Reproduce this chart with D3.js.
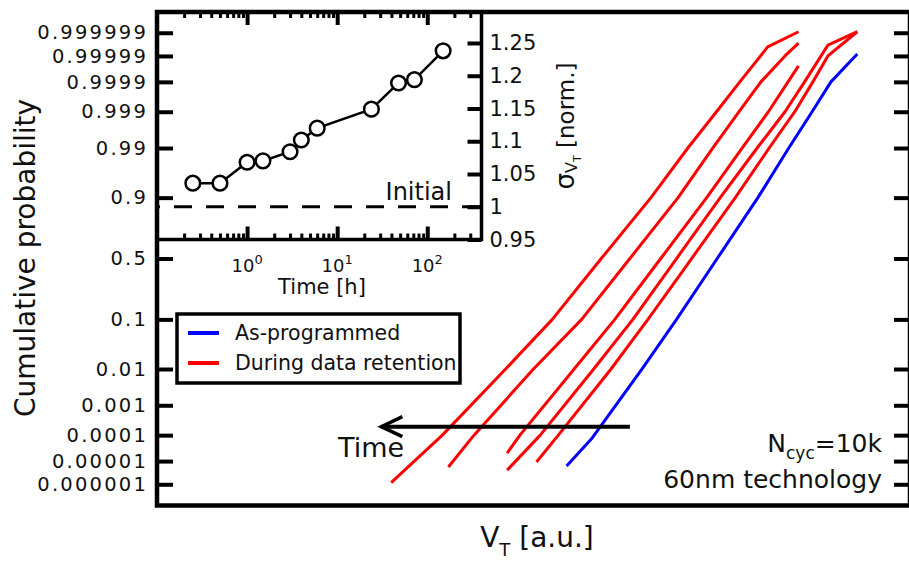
<!DOCTYPE html>
<html>
<head>
<meta charset="utf-8">
<script src="https://cdn.jsdelivr.net/npm/d3@7"></script>
<style>
  body { margin: 0; background: #fff; }
  text { font-family: "DejaVu Sans", sans-serif; fill: #111; }
</style>
</head>
<body>
<div id="chart"></div>
<script>
var width = 909, height = 563;

// ---- main plot data: V_T [a.u.] against cumulative probability ----
var probTicks  = [0.000001, 0.00001, 0.0001, 0.001, 0.01, 0.1, 0.5, 0.9, 0.99, 0.999, 0.9999, 0.99999, 0.999999];
var probLabels = ["0.000001", "0.00001", "0.0001", "0.001", "0.01", "0.1", "0.5", "0.9", "0.99", "0.999", "0.9999", "0.99999", "0.999999"];

// as-programmed (blue)
var asProgVT = [54.4, 57.8, 64.4, 69.0, 74.4, 79.8, 83.9, 87.0, 89.5, 93.0];
var asProgP  = [6.3e-6, 7.9e-5, 0.01, 0.1, 0.5, 0.9, 0.99, 0.999, 0.9999, 0.9999917];

// during data retention (red), latest time first
var ret1VT = [31.1, 37.9, 46.3, 52.5, 59.0, 65.6, 70.5, 74.3, 77.4, 81.1, 85.2];
var ret1P  = [1.2e-6, 1e-4, 0.01, 0.1, 0.5, 0.9, 0.99, 0.999, 0.9999, 0.9999958, 0.9999991];
var ret2VT = [38.7, 42.1, 50.0, 56.4, 62.8, 69.2, 73.8, 77.3, 80.2, 83.4, 85.2];
var ret2P  = [5.7e-6, 1e-4, 0.01, 0.1, 0.5, 0.9, 0.99, 0.999, 0.9999, 0.99999, 0.9999971];
var ret3VT = [46.5, 48.2, 55.4, 60.8, 66.9, 73.0, 77.7, 81.2, 83.8, 85.2];
var ret3P  = [2.1e-5, 1e-4, 0.01, 0.1, 0.5, 0.9, 0.99, 0.999, 0.9999, 0.999975];
var ret4VT = [46.5, 50.9, 58.0, 63.2, 69.0, 74.8, 79.7, 83.4, 86.0, 89.1, 93.0];
var ret4P  = [4.2e-6, 1e-4, 0.01, 0.1, 0.5, 0.9, 0.99, 0.999, 0.9999, 0.9999965, 0.9999991];
var ret5VT = [50.4, 53.3, 60.3, 65.2, 71.0, 76.8, 81.3, 84.7, 87.1, 89.1, 93.0];
var ret5P  = [9.2e-6, 1e-4, 0.01, 0.1, 0.5, 0.9, 0.99, 0.999, 0.9999, 0.99999, 0.9999991];

// "Time" arrow, in data units
var arrowVT = [62.8, 29.8];
var arrowP = 2e-4;

// ---- inset data: sigma V_T against retention time ----
var timeH  = [0.25, 0.5, 1, 1.5, 3, 4, 6, 24, 48, 72, 150];
var sigmaVT = [1.036, 1.036, 1.068, 1.07, 1.084, 1.102, 1.12, 1.149, 1.189, 1.194, 1.238];
var sigmaInitial = 1;
var sigmaTicks = [0.95, 1, 1.05, 1.1, 1.15, 1.2, 1.25];
var timeMajor = [1, 10, 100];
var timeMinor = [0.2, 0.3, 0.4, 0.5, 0.6, 0.7, 0.8, 0.9, 2, 3, 4, 5, 6, 7, 8, 9,
                 20, 30, 40, 50, 60, 70, 80, 90, 200, 300];

// inverse normal CDF (Acklam) for the probability axis
function probit(p) {
  var a = [-3.969683028665376e+01, 2.209460984245205e+02, -2.759285104469687e+02, 1.383577518672690e+02, -3.066479806614716e+01, 2.506628277459239e+00];
  var b = [-5.447609879822406e+01, 1.615858368580409e+02, -1.556989798598866e+02, 6.680131188771972e+01, -1.328068155288572e+01];
  var c = [-7.784894002430293e-03, -3.223964580411365e-01, -2.400758277161838e+00, -2.549732539343734e+00, 4.374664141464968e+00, 2.938163982698783e+00];
  var d = [7.784695709041462e-03, 3.224671290700398e-01, 2.445134137142996e+00, 3.754408661907416e+00];
  var pl = 0.02425, q, r;
  if (p < pl) {
    q = Math.sqrt(-2 * Math.log(p));
    return (((((c[0]*q+c[1])*q+c[2])*q+c[3])*q+c[4])*q+c[5]) / ((((d[0]*q+d[1])*q+d[2])*q+d[3])*q+1);
  }
  if (p > 1 - pl) {
    q = Math.sqrt(-2 * Math.log(1 - p));
    return -(((((c[0]*q+c[1])*q+c[2])*q+c[3])*q+c[4])*q+c[5]) / ((((d[0]*q+d[1])*q+d[2])*q+d[3])*q+1);
  }
  q = p - 0.5; r = q * q;
  return (((((a[0]*r+a[1])*r+a[2])*r+a[3])*r+a[4])*r+a[5])*q / (((((b[0]*r+b[1])*r+b[2])*r+b[3])*r+b[4])*r+1);
}

var frame = {left: 157, top: 12, right: 910, bottom: 505.5};
var inset = {left: 157, top: 12, right: 481.5, bottom: 239.5};

var x = d3.scaleLinear().domain([0, 100]).range([frame.left, frame.right]);
var yZ = d3.scaleLinear().domain([-5.2, 5.19]).range([frame.bottom, frame.top]);
function yP(p) { return yZ(probit(p)); }

var tx = d3.scaleLog().domain([0.1, 400]).range([inset.left, inset.right]);
var ty = d3.scaleLinear().domain([0.95, 1.2973]).range([inset.bottom, inset.top]);

var svg = d3.select("#chart").append("svg")
  .attr("width", width).attr("height", height);

// inset background first so the main axis ticks stay on top
svg.append("rect")
  .attr("x", inset.left).attr("y", inset.top)
  .attr("width", inset.right - inset.left).attr("height", inset.bottom - inset.top)
  .attr("fill", "#fff");

// ---- curves ----
var curves = [
  {vt: ret1VT, p: ret1P, color: "#ff0000"},
  {vt: ret2VT, p: ret2P, color: "#ff0000"},
  {vt: ret3VT, p: ret3P, color: "#ff0000"},
  {vt: ret4VT, p: ret4P, color: "#ff0000"},
  {vt: ret5VT, p: ret5P, color: "#ff0000"},
  {vt: asProgVT, p: asProgP, color: "#0000ff"}
];

var line = d3.line()
  .x(function(d) { return x(d[0]); })
  .y(function(d) { return yP(d[1]); });

svg.selectAll(".curve")
  .data(curves)
  .enter().append("path")
    .attr("class", "curve")
    .attr("d", function(c) { return line(c.vt.map(function(v, i) { return [v, c.p[i]]; })); })
    .attr("fill", "none")
    .attr("stroke", function(c) { return c.color; })
    .attr("stroke-width", 3)
    .attr("stroke-linejoin", "round");

// time arrow
var ay = yP(arrowP);
svg.append("line")
  .attr("x1", x(arrowVT[0])).attr("x2", x(arrowVT[1]))
  .attr("y1", ay).attr("y2", ay)
  .attr("stroke", "#000").attr("stroke-width", 4);
svg.append("path")
  .attr("d", "M" + (x(arrowVT[1]) + 21) + "," + (ay - 10) + "L" + x(arrowVT[1]) + "," + ay + "L" + (x(arrowVT[1]) + 21) + "," + (ay + 10))
  .attr("fill", "none").attr("stroke", "#000").attr("stroke-width", 3.5);
svg.append("text")
  .attr("x", 338).attr("y", 457)
  .style("font-size", "27px")
  .text("Time");

// ---- main frame and axes ----
svg.append("rect")
  .attr("x", frame.left).attr("y", frame.top)
  .attr("width", frame.right - frame.left).attr("height", frame.bottom - frame.top)
  .attr("fill", "none").attr("stroke", "#000").attr("stroke-width", 4.5);

var zTicks = probTicks.map(probit);

var yAxisL = svg.append("g")
  .attr("transform", "translate(" + frame.left + ",0)")
  .call(d3.axisLeft(yZ).tickValues(zTicks)
    .tickFormat(function(d, i) { return probLabels[i]; })
    .tickSizeInner(-16).tickSizeOuter(0).tickPadding(9));
yAxisL.select(".domain").remove();
yAxisL.selectAll(".tick line").attr("stroke-width", 4);
yAxisL.selectAll(".tick text")
  .style("font-size", "19.5px").style("letter-spacing", "2.2px")
  .attr("fill", "#111");

var yAxisR = svg.append("g")
  .attr("transform", "translate(" + frame.right + ",0)")
  .call(d3.axisRight(yZ).tickValues(zTicks).tickFormat("")
    .tickSizeInner(-16).tickSizeOuter(0));
yAxisR.select(".domain").remove();
yAxisR.selectAll(".tick line").attr("stroke-width", 4);

svg.append("text")
  .attr("transform", "translate(35,258) rotate(-90)")
  .attr("text-anchor", "middle")
  .style("font-size", "28px")
  .text("Cumulative probability");

var xl = svg.append("text")
  .attr("x", 537).attr("y", 547)
  .attr("text-anchor", "middle")
  .style("font-size", "28px");
xl.append("tspan").text("V");
xl.append("tspan").attr("dy", 9).style("font-size", "18px").text("T");
xl.append("tspan").attr("dy", -9).text(" [a.u.]");

var nc = svg.append("text")
  .attr("x", 882).attr("y", 452)
  .attr("text-anchor", "end")
  .style("font-size", "25px");
nc.append("tspan").text("N");
nc.append("tspan").attr("dy", 7).style("font-size", "17px").text("cyc");
nc.append("tspan").attr("dy", -7).text("=10k");

svg.append("text")
  .attr("x", 882).attr("y", 488)
  .attr("text-anchor", "end")
  .style("font-size", "25px")
  .text("60nm technology");

// ---- legend ----
var legend = svg.append("g");
legend.append("rect")
  .attr("x", 177).attr("y", 314).attr("width", 283).attr("height", 69)
  .attr("fill", "#fff").attr("stroke", "#000").attr("stroke-width", 3.5);
var legendItems = [
  {label: "As-programmed", color: "#0000ff"},
  {label: "During data retention", color: "#ff0000"}
];
var li = legend.selectAll(".item").data(legendItems).enter().append("g")
  .attr("transform", function(d, i) { return "translate(0," + (333 + i * 30) + ")"; });
li.append("line")
  .attr("x1", 188).attr("x2", 219)
  .attr("stroke", function(d) { return d.color; }).attr("stroke-width", 4);
li.append("text")
  .attr("x", 235).attr("y", 7)
  .style("font-size", "20.5px").attr("fill", "#222")
  .text(function(d) { return d.label; });

// ---- inset ----
var ig = svg.append("g");

ig.append("path")
  .attr("d", "M" + inset.left + "," + ty(sigmaInitial) + "H" + inset.right)
  .attr("stroke", "#000").attr("stroke-width", 3)
  .attr("stroke-dasharray", "18,14").attr("stroke-dashoffset", 15);

ig.append("text")
  .attr("x", 452).attr("y", 200)
  .attr("text-anchor", "end")
  .style("font-size", "24px")
  .text("Initial");

var pts = timeH.map(function(t, i) { return [t, sigmaVT[i]]; });
ig.append("path")
  .attr("d", d3.line().x(function(d) { return tx(d[0]); }).y(function(d) { return ty(d[1]); })(pts))
  .attr("fill", "none").attr("stroke", "#000").attr("stroke-width", 2.5);
ig.selectAll(".pt").data(pts).enter().append("circle")
  .attr("cx", function(d) { return tx(d[0]); })
  .attr("cy", function(d) { return ty(d[1]); })
  .attr("r", 7.3)
  .attr("fill", "#fff").attr("stroke", "#000").attr("stroke-width", 2.5);

// inset frame (right and bottom edges)
ig.append("path")
  .attr("d", "M" + inset.right + "," + inset.top + "V" + inset.bottom + "H" + inset.left)
  .attr("fill", "none").attr("stroke", "#000").attr("stroke-width", 3.5);

function timeAxis(axisFn, yPos, values, size, sw) {
  var g = ig.append("g")
    .attr("transform", "translate(0," + yPos + ")")
    .call(axisFn(tx).tickValues(values).tickFormat("").tickSizeInner(size).tickSizeOuter(0));
  g.select(".domain").remove();
  g.selectAll(".tick line").attr("stroke-width", sw);
  return g;
}
timeAxis(d3.axisBottom, inset.bottom, timeMinor, -6, 3);
timeAxis(d3.axisBottom, inset.bottom, timeMajor, -13, 4);
timeAxis(d3.axisTop, inset.top, timeMinor, -6, 3);
timeAxis(d3.axisTop, inset.top, timeMajor, -13, 4);

ig.selectAll(".tlabel").data(timeMajor).enter().append("text")
  .attr("x", function(d) { return tx(d); })
  .attr("y", 272)
  .attr("text-anchor", "middle")
  .style("font-size", "18px")
  .each(function(d) {
    var t = d3.select(this);
    t.append("tspan").text("10");
    t.append("tspan").attr("dy", -8).style("font-size", "13px").text(Math.round(Math.log10(d)));
  });

ig.append("text")
  .attr("x", 322).attr("y", 294)
  .attr("text-anchor", "middle")
  .style("font-size", "21px")
  .text("Time [h]");

var sAxis = ig.append("g")
  .attr("transform", "translate(" + inset.right + ",0)")
  .call(d3.axisRight(ty).tickValues(sigmaTicks)
    .tickFormat(function(d) { return String(+d.toFixed(2)); })
    .tickSizeInner(-14).tickSizeOuter(0).tickPadding(8));
sAxis.select(".domain").remove();
sAxis.selectAll(".tick line").attr("stroke-width", 4);
sAxis.selectAll(".tick text").style("font-size", "21px").attr("fill", "#111");

var sl = ig.append("text")
  .attr("transform", "translate(574,126) rotate(-90)")
  .attr("text-anchor", "middle")
  .style("font-size", "23px");
sl.append("tspan").style("font-size", "26px").text("σ");
sl.append("tspan").attr("dy", 3).style("font-size", "16px").text("V");
sl.append("tspan").attr("dy", 4).style("font-size", "11px").text("T");
sl.append("tspan").attr("dy", -7).text(" [norm.]");
</script>
</body>
</html>
